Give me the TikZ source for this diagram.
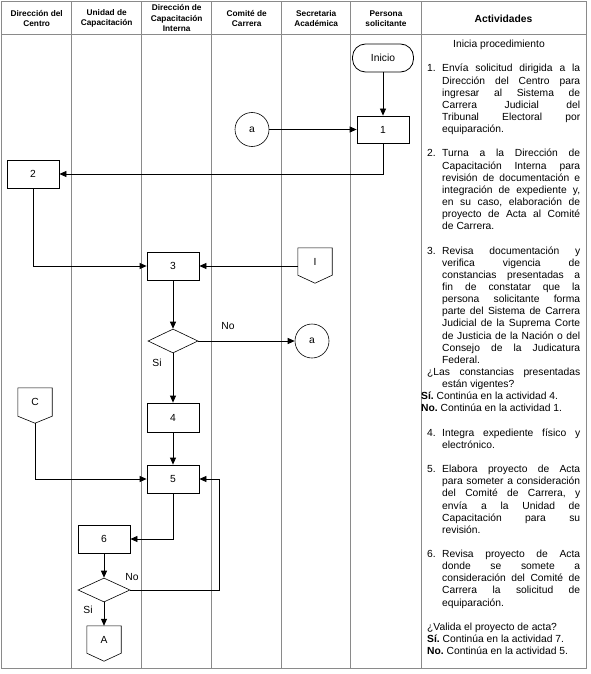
\documentclass[tikz,border=0pt]{standalone}
\usepackage{fontspec}
\setmainfont{Liberation Sans}
\usetikzlibrary{arrows.meta,shapes.geometric}
\definecolor{gridc}{HTML}{8A8A8A}
\newcommand\actitem[2]{\par\hangindent=15pt\hangafter=1\noindent\makebox[15pt][l]{#1}#2\par}
\begin{document}
\begin{tikzpicture}[x=1pt,y=-1pt,
  gridline/.style={draw=gridc, line width=1pt},
  flow/.style={draw=black, line width=0.8pt},
  arr/.style={flow, -{Triangle[length=7pt,width=6pt]}},
  txt/.style={font=\fontsize{10.3}{12}\selectfont},
  box/.style={txt, draw, line width=0.8pt, minimum width=52pt, minimum height=28pt, inner sep=0},
  conn/.style={txt, circle, draw, line width=0.6pt, minimum size=34pt, inner sep=0},
  dec/.style={diamond, draw, line width=0.6pt, minimum width=50pt, minimum height=24pt, inner sep=0},
  offp/.style={txt, minimum width=34pt, minimum height=27pt, inner sep=0},
  head/.style={align=center, font=\fontsize{8.3}{10.3}\selectfont\bfseries},
  lbl/.style={txt, inner sep=0}]
\useasboundingbox (0,0) rectangle (590,674);
\fill[white] (0,0) rectangle (590,674);
% grid
\draw[gridline] (1.7,2) rectangle (586,668);
\draw[gridline] (1.7,35) -- (586,35);
\foreach \x in {71.7,141.7,211.7,281.7,350.7,421} \draw[gridline] (\x,2) -- (\x,668);
% headers
\node[head] (h1) at (36.7,18.5) {Dirección del\\Centro};
\node[head] (h2) at (106.7,18.5) {Unidad de\\Capacitación};
\node[head] (h3) at (176.7,18) {Dirección de\\Capacitación\\Interna};
\node[head] (h4) at (246.7,18.5) {Comité de\\Carrera};
\node[head] (h5) at (316.2,18.5) {Secretaria\\Académica};
\node[head] (h6) at (386,18.5) {Persona\\solicitante};
\node[font=\fontsize{10.3}{12}\selectfont\bfseries] (h7) at (503.5,19) {Actividades};
% flow nodes
\node[txt, draw, rounded corners=13pt, minimum width=61pt, minimum height=28pt, line width=0.8pt, inner sep=0] (ini) at (383,58) {Inicio};
\node[box, minimum height=27pt] (n1) at (383,129.5) {1};
\node[conn] (ca) at (252,129.5) {a};
\node[box] (n2) at (33,174) {2};
\node[box] (n3) at (173,266) {3};
\node[offp] (I) at (315,261.5) {I};
\draw[flow, line width=0.6pt] (I.north west) -- (I.north east) -- (I.south east) -- ([yshift=-8pt]I.south) -- (I.south west) -- cycle;
\node[dec] (d1) at (173,341) {};
\node[conn] (ca2) at (312,341) {a};
\node[lbl] (no1) at (228,326) {No};
\node[lbl] (si1) at (157,363) {Si};
\node[box, minimum height=29pt] (n4) at (173,417.5) {4};
\node[offp, minimum height=28pt] (C) at (35,402) {C};
\draw[flow, line width=0.6pt] (C.north west) -- (C.north east) -- (C.south east) -- ([yshift=-7pt]C.south) coordinate (Ctip) -- (C.south west) -- cycle;
\node[box] (n5) at (173,479) {5};
\node[box] (n6) at (104,539) {6};
\node[dec, minimum width=52pt] (d2) at (104,590) {};
\node[lbl] (no2) at (132,577) {No};
\node[lbl] (si2) at (88,610) {Si};
\node[offp] (A) at (104,639.5) {A};
\draw[flow, line width=0.6pt] (A.north west) -- (A.north east) -- (A.south east) -- ([yshift=-8pt]A.south) -- (A.south west) -- cycle;
\coordinate (r) at (219,479);
% connectors
\draw[arr] (ini) -- (n1);
\draw[arr] (ca) -- (n1);
\draw[arr] (n1.south) |- (n2.east);
\draw[arr] (n2.south) |- (n3.west);
\draw[arr] (I.west |- n3.east) -- (n3.east);
\draw[arr] (n3) -- (d1);
\draw[arr] (d1.east) -- (ca2.west |- d1.east);
\draw[arr] (d1) -- (n4);
\draw[arr] (n4) -- (n5);
\draw[arr] (Ctip) |- (n5.west);
\draw[arr] (n5.south) |- (n6.east);
\draw[arr] (n6) -- (d2);
\draw[arr] (d2.east) -| (r) -- (n5.east);
\draw[arr] (d2) -- (A);
% activities
\node[anchor=north west, inner sep=0, text width=153pt, align=justify, font=\fontsize{10.3}{12.14}\selectfont] (act) at (427,39) {%
\tolerance=10000 \hbadness=10000 \hyphenpenalty=10000 \parindent=0pt \parskip=0pt \frenchspacing
\leftskip=0pt \rightskip=0pt \spaceskip=0pt \xspaceskip=0pt \parfillskip=0pt plus 1fil
\strut\hspace*{26pt}Inicia procedimiento\par
\vskip12.14pt
\actitem{1.}{Envía solicitud dirigida a la\linebreak Dirección del Centro para\linebreak ingresar al Sistema de\linebreak Carrera Judicial del\linebreak Tribunal Electoral por\linebreak equiparación.}
\vskip12.14pt
\actitem{2.}{Turna a la Dirección de\linebreak Capacitación Interna para\linebreak revisión de documentación e\linebreak integración de expediente y,\linebreak en su caso, elaboración de\linebreak proyecto de Acta al Comité\linebreak de Carrera.}
\vskip12.14pt
\actitem{3.}{Revisa documentación y\linebreak verifica vigencia de\linebreak constancias presentadas a\linebreak fin de constatar que la\linebreak persona solicitante forma\linebreak parte del Sistema de Carrera\linebreak Judicial de la Suprema Corte\linebreak de Justicia de la Nación o del\linebreak Consejo de la Judicatura\linebreak Federal.}
\hangindent=15pt\hangafter=1\noindent ¿Las constancias presentadas\linebreak están vigentes?\par
\noindent\hspace*{-6pt}\textbf{Sí.} Continúa en la actividad 4.\par
\noindent\hspace*{-6pt}\textbf{No.} Continúa en la actividad 1.\par
\vskip12.14pt
\actitem{4.}{Integra expediente físico y\linebreak electrónico.}
\vskip12.14pt
\actitem{5.}{Elabora proyecto de Acta\linebreak para someter a consideración\linebreak del Comité de Carrera, y\linebreak envía a la Unidad de\linebreak Capacitación para su\linebreak revisión.}
\vskip12.14pt
\actitem{6.}{Revisa proyecto de Acta\linebreak donde se somete a\linebreak consideración del Comité de\linebreak Carrera la solicitud de\linebreak equiparación.}
\vskip12.14pt
\noindent ¿Valida el proyecto de acta?\par
\noindent\textbf{Sí.} Continúa en la actividad 7.\par
\noindent\textbf{No.} Continúa en la actividad 5.\par
};
\end{tikzpicture}
\end{document}
